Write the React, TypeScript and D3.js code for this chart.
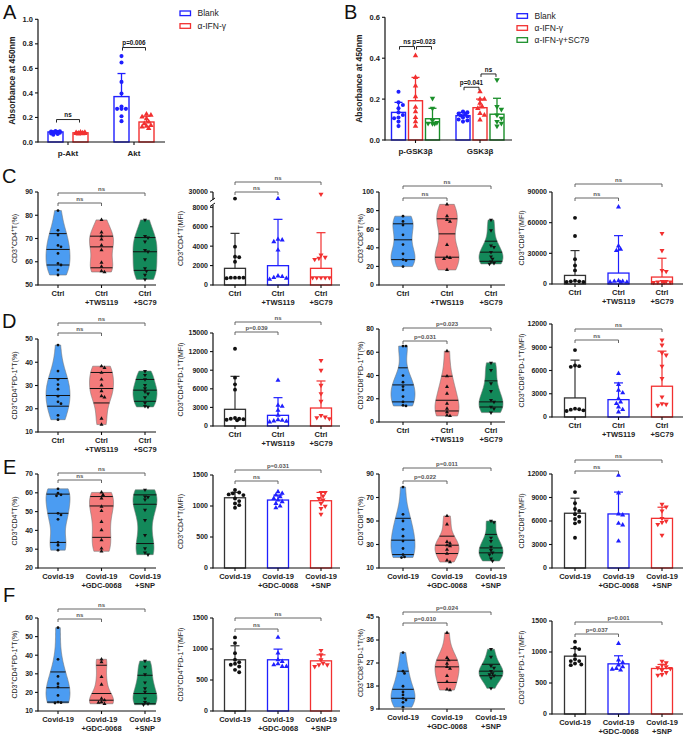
import React from 'react';
import * as d3 from 'd3';

const FONT = "Arial, 'Liberation Sans', Helvetica, sans-serif";
const BLUE = '#1f1fff';
const RED = '#f23030';
const GREEN = '#1a8f2a';
const BLACK = '#111111';
const V_FILLS = ['#4b9cf2', '#f47b7b', '#13895a'];

// ---------- panel A ----------
const aGroups = ['p-Akt', 'Akt'];
const aSeries = ['Blank', 'α-IFN-γ'];
const aMeans = [[0.082, 0.37], [0.075, 0.163]];
const aSDs = [[0.008, 0.188], [0.007, 0.047]];
const aPoints = [
  [[0.09, 0.088, 0.085, 0.082, 0.08, 0.078, 0.075, 0.07, 0.065, 0.06], [0.7, 0.648, 0.49, 0.395, 0.29, 0.27, 0.27, 0.27, 0.21, 0.17]],
  [[0.08, 0.078, 0.077, 0.075, 0.073, 0.072, 0.07, 0.07, 0.068, 0.066], [0.226, 0.218, 0.204, 0.19, 0.163, 0.15, 0.136, 0.13, 0.123, 0.11]],
];
const aTicks = [0, 0.2, 0.4, 0.6, 0.8, 1.0];
const aSig = ['ns', 'p=0.006'];

// ---------- panel B ----------
const bGroups = ['p-GSK3β', 'GSK3β'];
const bSeries = ['Blank', 'α-IFN-γ', 'α-IFN-γ+SC79'];
const bMeans = [[0.135, 0.119], [0.192, 0.158], [0.104, 0.126]];
const bSDs = [[0.049, 0.016], [0.114, 0.042], [0.051, 0.078]];
const bPoints = [
  [[0.236, 0.184, 0.171, 0.155, 0.135, 0.122, 0.11, 0.106, 0.09, 0.068], [0.139, 0.135, 0.13, 0.125, 0.12, 0.115, 0.11, 0.1, 0.095, 0.09]],
  [[0.412, 0.306, 0.264, 0.212, 0.16, 0.139, 0.11, 0.09, 0.068], [0.236, 0.2, 0.2, 0.18, 0.163, 0.155, 0.13, 0.122, 0.098]],
  [[0.204, 0.155, 0.095, 0.085, 0.082, 0.08, 0.08], [0.294, 0.163, 0.15, 0.122, 0.106, 0.09, 0.082, 0.068]],
];
const bTicks = [0, 0.2, 0.4, 0.6];
const bSig = ['ns', 'p=0.023', 'p=0.041', 'ns'];

// ---------- group labels ----------
const ctrlGroups = [['Ctrl'], ['Ctrl', '+TWS119'], ['Ctrl', '+SC79']];
const covidGroups = [['Covid-19'], ['Covid-19', '+GDC-0068'], ['Covid-19', '+SNP']];

// ---------- row C ----------
const c1Points = [
  [82, 73.5, 71.5, 67, 66.4, 63.6, 59.3, 58.6, 56.4, 54.3],
  [78, 72.7, 71, 69.6, 67.1, 65, 59.6, 57.9, 56, 55.6],
  [78, 71, 70.4, 68.6, 65, 64.3, 61, 57.1, 56, 54.3, 52.4],
];
const c1Quart = [[58.6, 65.3, 72.1], [57.4, 66.4, 71], [56.3, 64.3, 70.4]];
const c1Ticks = [50, 60, 70, 80, 90];
const c1Sig = ['ns', 'ns'];

const c2Means = [1716, 1990, 1716];
const c2SDs = [3600, 4770, 3670];
const c2Points = [
  [13500, 3950, 2920, 2850, 2400, 755, 755, 755, 755, 690],
  [13500, 4700, 4640, 4460, 3600, 930, 860, 755, 690, 585],
  [24500, 3090, 2850, 2750, 2640, 755, 755, 755, 755, 755],
];
const c2Ticks = [0, 2000, 4000, 6000, 8000];
const c2UpperTicks = [30000];
const c2Sig = ['ns', 'ns'];

const c3Points = [
  [74, 68.3, 64.4, 54, 43.5, 33.5, 27.3, 26.3, 19.8],
  [86.7, 74, 70.1, 68.3, 43.2, 29.9, 29.1, 28.1, 16.2],
  [70, 58.6, 42.4, 40.6, 35.3, 30.6, 28.1, 25.2, 23.4, 22.7],
];
const c3Quart = [[27.3, 48.6, 65.8], [29.9, 55, 71.2], [25.5, 35.3, 47.1]];
const c3Ticks = [0, 20, 40, 60, 80, 100];
const c3Sig = ['ns', 'ns'];

const c4Means = [8400, 10700, 6800];
const c4SDs = [24300, 36600, 18400];
const c4Points = [
  [64700, 46900, 24300, 18100, 13300, 3200, 2600, 2600, 1900, 1900],
  [75400, 37200, 34000, 32700, 3200, 2600, 2600, 1900, 1900, 1600],
  [49500, 32700, 13300, 12300, 2600, 2600, 1900, 1900, 1600, 1600],
];
const c4Ticks = [0, 30000, 60000, 90000];
const c4Sig = ['ns', 'ns'];

// ---------- row D ----------
const d1Points = [
  [47.4, 36.2, 32.6, 30.4, 28.4, 25.4, 23, 22.2, 17.2, 15.3],
  [38.3, 37.6, 35.5, 32.6, 30.1, 27.6, 25.4, 24.9, 15.8, 13.2],
  [36.2, 34.5, 32.6, 30.1, 28.7, 27.3, 26.5, 24.9, 22.5, 21.1, 20.8],
];
const d1Quart = [[21.1, 25.7, 33], [22.5, 28.7, 35.6], [23.2, 28, 32.6]];
const d1Ticks = [10, 20, 30, 40, 50];
const d1Sig = ['ns', 'ns'];

const d2Means = [2690, 1720, 2900];
const d2SDs = [5320, 2850, 4360];
const d2Points = [
  [12470, 7800, 6720, 5860, 1290, 1180, 1180, 1080, 1020, 910],
  [7370, 3330, 3170, 2530, 1720, 1020, 910, 810, 750, 650],
  [10590, 8980, 6560, 5220, 3980, 1720, 1450, 1340, 1180],
];
const d2Ticks = [0, 3000, 6000, 9000, 12000, 15000];
const d2Sig = ['p=0.039', 'ns'];

const d3Points = [
  [65.3, 65.3, 39.9, 34.2, 30.5, 27.6, 21.9, 17.3, 14.4, 13.8],
  [61, 39.4, 30.2, 24.5, 15.8, 11.5, 8.6, 5.8, 5.2],
  [50.9, 44.6, 33.1, 26.5, 18.7, 17.3, 12.9, 11.5, 8.1],
];
const d3Quart = [[17.3, 31.9, 46.6], [9.5, 18.7, 39.4], [12.9, 17.3, 35.4]];
const d3Ticks = [0, 20, 40, 60, 80];
const d3Sig = ['p=0.031', 'p=0.023'];

const d4Means = [2460, 2240, 3970];
const d4SDs = [4880, 2160, 4530];
const d4Points = [
  [8630, 6650, 6560, 6470, 1080, 990, 950, 860, 780],
  [5610, 4190, 3450, 3110, 2370, 1940, 1730, 1300, 950, 650],
  [9930, 9280, 8290, 7990, 6560, 4960, 2590, 1730, 1640, 1510],
];
const d4Ticks = [0, 3000, 6000, 9000, 12000];
const d4Sig = ['ns', 'ns'];

// ---------- row E ----------
const e1Points = [
  [62.1, 59.8, 58.9, 58.4, 49.1, 48.2, 45.9, 33.6, 32.1, 29.5],
  [60.2, 58.9, 57.1, 52.7, 50.4, 44.6, 40.2, 34.8, 30.4, 28.9],
  [61.6, 58, 57.7, 56.3, 50.9, 45.5, 37.5, 30.4, 28.2, 27.1],
];
const e1Quart = [[33.6, 49.1, 59.3], [36.3, 53, 58], [33, 53.9, 58.9]];
const e1Ticks = [20, 30, 40, 50, 60, 70];
const e1Sig = ['ns', 'ns'];

const e2Means = [1133, 1096, 1085];
const e2SDs = [86, 80, 134];
const e2Points = [
  [1257, 1219, 1203, 1187, 1176, 1122, 1079, 1041, 1014, 971],
  [1230, 1203, 1176, 1149, 1122, 1096, 1069, 1041, 998, 971],
  [1219, 1219, 1160, 1122, 1096, 1041, 998, 960, 869],
];
const e2Ticks = [0, 500, 1000, 1500];
const e2Sig = ['ns', 'p=0.031'];

const e3Points = [
  [78.9, 55.7, 50, 42.9, 37.1, 32.9, 26.6, 21.4, 19.4, 18.9],
  [54.3, 47.1, 32.3, 30.9, 29.4, 28.6, 25.7, 22.3, 16.6, 15.1],
  [50, 48.9, 35.7, 32.9, 28, 25.1, 23.1, 21.4, 18, 16],
];
const e3Quart = [[21.4, 33.7, 52.3], [22.3, 29.4, 37.1], [22.9, 27.1, 38.6]];
const e3Ticks = [10, 30, 50, 70, 90];
const e3Sig = ['p=0.022', 'p=0.011'];

const e4Means = [6990, 6900, 6340];
const e4SDs = [1920, 2790, 1420];
const e4Points = [
  [9690, 8270, 7540, 7290, 6860, 6560, 6260, 5910, 5700, 3860],
  [11830, 9560, 6900, 6770, 5700, 5490, 3430],
  [8140, 7800, 7290, 6340, 6000, 5830, 5570, 4200],
];
const e4Ticks = [0, 3000, 6000, 9000, 12000];
const e4Sig = ['ns', 'ns'];

// ---------- row F ----------
const f1Points = [
  [54.8, 37.8, 28.6, 24.7, 22.9, 18.4, 14.8, 14.5, 14.3],
  [37.8, 36.3, 28.3, 24.2, 16.7, 15.8, 14.8, 14.5, 13.9],
  [36.9, 33.7, 29.7, 25.3, 22.1, 20.3, 16.7, 14.8, 13.9, 13.4],
];
const f1Quart = [[14.8, 22.5, 31], [15.8, 19.4, 34.6], [13.9, 19.4, 29.2]];
const f1Ticks = [10, 20, 30, 40, 50, 60];
const f1Sig = ['ns', 'ns'];

const f2Means = [826, 826, 809];
const f2SDs = [226, 172, 97];
const f2Points = [
  [1187, 1095, 933, 826, 788, 761, 745, 718, 664, 626],
  [1187, 933, 826, 799, 761, 745, 718, 718],
  [977, 906, 826, 772, 745, 745, 718],
];
const f2Ticks = [0, 500, 1000, 1500];
const f2Sig = ['ns', 'ns'];

const f3Points = [
  [31.1, 23.8, 22.9, 17.9, 15.7, 14.5, 13.2, 12.5, 11.6, 9.7],
  [38.8, 29, 28.1, 26.8, 25.5, 24.8, 22, 19.6, 16.7, 16.4],
  [32.4, 29.4, 25.9, 25.1, 23.8, 22.9, 22.5, 22, 21.2, 17.1],
];
const f3Quart = [[13.2, 16.7, 23.8], [19.4, 25.5, 28.1], [22, 23.8, 26.5]];
const f3Ticks = [9, 18, 27, 36, 45];
const f3Sig = ['p=0.010', 'p=0.024'];

const f4Means = [933, 809, 734];
const f4SDs = [124, 130, 65];
const f4Points = [
  [1165, 1068, 1047, 950, 885, 853, 853, 815, 799, 788],
  [1138, 869, 831, 788, 761, 734, 723, 707],
  [853, 826, 788, 761, 745, 734, 707, 669, 637, 626],
];
const f4Ticks = [0, 500, 1000, 1500];
const f4Sig = ['p=0.037', 'p=0.001'];

// ---------- helpers ----------
type Shape = 'circle' | 'up' | 'down';
type Scale = (v: number) => number;

const symPath = (shape: Shape, size: number) =>
  d3.symbol().type(shape === 'circle' ? d3.symbolCircle : d3.symbolTriangle).size(size)() as string;

function Mark({ x, y, shape, size, fill }: { x: number; y: number; shape: Shape; size: number; fill: string }) {
  return (
    <path
      d={symPath(shape, size)}
      transform={`translate(${x},${y})${shape === 'down' ? ' rotate(180)' : ''}`}
      fill={fill}
    />
  );
}

// beeswarm kept inside +-maxOff; when crowded, take the least overlapping slot
function swarm(py: number[], r: number, maxOff: number): number[] {
  const out = py.map(() => 0);
  const placed: { x: number; y: number }[] = [];
  const order = d3.range(py.length).sort((a, b) => py[a] - py[b]);
  const slots: number[] = [0];
  for (let k = 1; k * r <= maxOff; k++) slots.push(k * r, -k * r);
  for (const i of order) {
    let best = 0;
    let bestD = -1;
    for (const off of slots) {
      const dmin = placed.length ? (d3.min(placed, p => Math.hypot(p.x - off, p.y - py[i])) as number) : Infinity;
      if (dmin >= 1.8 * r) { best = off; bestD = Infinity; break; }
      if (dmin > bestD) { bestD = dmin; best = off; }
    }
    out[i] = best;
    placed.push({ x: best, y: py[i] });
  }
  return out;
}

function YLabel({ x, y, text, size = 7, bold = false }: { x: number; y: number; text: string; size?: number; bold?: boolean }) {
  const parts = text.split('^');
  return (
    <text transform={`translate(${x},${y}) rotate(-90)`} textAnchor="middle" fontSize={size} fontWeight={bold ? 'bold' : 'normal'} fill="#222">
      <tspan>{parts[0]}</tspan>
      {parts.slice(1).map((p, i) => (
        <React.Fragment key={i}>
          <tspan dy={-2.6} fontSize={size * 0.72}>{p[0]}</tspan>
          <tspan dy={2.6}>{p.slice(1)}</tspan>
        </React.Fragment>
      ))}
    </text>
  );
}

function YAxis({ x, y, ticks, fmt, size = 7 }: { x: number; y: Scale; ticks: number[]; fmt: (v: number) => string; size?: number }) {
  return (
    <g>
      <line x1={x} x2={x} y1={y(ticks[0]) + 0.6} y2={y(ticks[ticks.length - 1])} stroke="#111" strokeWidth={1.2} />
      {ticks.map(t => (
        <g key={t}>
          <line x1={x - 3} x2={x} y1={y(t)} y2={y(t)} stroke="#111" strokeWidth={1.1} />
          <text x={x - 5} y={y(t)} dy="0.35em" textAnchor="end" fontSize={size} fontWeight="bold" fill="#222">{fmt(t)}</text>
        </g>
      ))}
    </g>
  );
}

function XAxis({ x0, x1, y, centers, labels, size = 7.5, gap = 11 }: { x0: number; x1: number; y: number; centers: number[]; labels: string[][]; size?: number; gap?: number }) {
  return (
    <g>
      <line x1={x0} x2={x1} y1={y} y2={y} stroke="#111" strokeWidth={1.2} />
      {centers.map((c, i) => (
        <g key={i}>
          <line x1={c} x2={c} y1={y} y2={y + 3} stroke="#111" strokeWidth={1.1} />
          {labels[i].map((l, j) => (
            <text key={j} x={c} y={y + gap + j * 9.3} textAnchor="middle" fontSize={size} fontWeight="bold" fill="#222">{l}</text>
          ))}
        </g>
      ))}
    </g>
  );
}

function Bracket({ x1, x2, y, label, size = 6, color = '#555', bold = true }: { x1: number; x2: number; y: number; label: string; size?: number; color?: string; bold?: boolean }) {
  return (
    <g>
      <path d={`M${x1},${y + 3}V${y}H${x2}V${y + 3}`} fill="none" stroke={color} strokeWidth={0.9} />
      <text x={(x1 + x2) / 2} y={y - 2.2} textAnchor="middle" fontSize={size} fontWeight={bold ? 'bold' : 'normal'} fill={color}>{label}</text>
    </g>
  );
}

function Letter({ x, y, t }: { x: number; y: number; t: string }) {
  return <text x={x} y={y} fontSize={20} fill="#111">{t}</text>;
}

// ---------- grouped bars (A, B) ----------
type GroupBarsProps = {
  axisX: number; xEnd: number; y0: number; y1: number; ticks: number[];
  groups: string[]; series: string[]; centers: number[]; subRange: [number, number]; padInner: number;
  colors: string[]; shapes: Shape[]; means: number[][]; sds: number[][]; points: number[][][];
  brackets: { g: number; s1: number; s2: number; at: number }[]; sig: string[];
  label: string; labelX: number;
};

function GroupBars(p: GroupBarsProps) {
  const y = d3.scaleLinear().domain([p.ticks[0], p.ticks[p.ticks.length - 1]]).range([p.y0, p.y1]);
  const sub = d3.scaleBand<string>().domain(p.series).range(p.subRange).paddingInner(p.padInner);
  const bw = sub.bandwidth();
  const cx = (g: number, s: number) => p.centers[g] + (sub(p.series[s]) as number) + bw / 2;
  const fmt = d3.format('.1f');
  return (
    <g>
      {p.series.map((sName, s) =>
        p.groups.map((_, g) => {
          const c = cx(g, s);
          const m = p.means[s][g];
          const top = m + p.sds[s][g];
          const py = p.points[s][g].map(v => y(v));
          const offs = swarm(py, 2.2, bw / 2 - 2);
          return (
            <g key={`${sName}-${g}`}>
              <rect x={c - bw / 2} y={y(m)} width={bw} height={p.y0 - y(m)} fill="#fff" stroke={p.colors[s]} strokeWidth={1.4} />
              <line x1={c} x2={c} y1={y(m)} y2={y(top)} stroke={p.colors[s]} strokeWidth={1.3} />
              <line x1={c - 4} x2={c + 4} y1={y(top)} y2={y(top)} stroke={p.colors[s]} strokeWidth={1.3} />
              {py.map((v, i) => (
                <Mark key={i} x={c + offs[i]} y={v} shape={p.shapes[s]} size={p.shapes[s] === 'circle' ? 13 : 13} fill={p.colors[s]} />
              ))}
            </g>
          );
        })
      )}
      <YAxis x={p.axisX} y={y} ticks={p.ticks} fmt={fmt} size={7.5} />
      <XAxis x0={p.axisX} x1={p.xEnd} y={p.y0} centers={p.centers} labels={p.groups.map(g => [g])} size={8} gap={14} />
      {p.brackets.map((b, i) => (
        <Bracket key={i} x1={cx(b.g, b.s1) + 1} x2={cx(b.g, b.s2) - 1} y={y(b.at)} label={p.sig[i]} size={6.3} color="#111" />
      ))}
      <YLabel x={p.labelX} y={(p.y0 + p.y1) / 2} text={p.label} size={8.5} bold />
    </g>
  );
}

function Legend({ x, ys, colors, labels }: { x: number; ys: number[]; colors: string[]; labels: string[] }) {
  return (
    <g>
      {labels.map((l, i) => (
        <g key={l}>
          <rect x={x} y={ys[i] - 2.3} width={10.5} height={4.6} fill="#fff" stroke={colors[i]} strokeWidth={1.3} />
          <text x={x + 17.5} y={ys[i]} dy="0.35em" fontSize={8.5} fill="#222">{l}</text>
        </g>
      ))}
    </g>
  );
}

// ---------- layout ----------
const COLS = [
  { axisX: 38, xEnd: 156, catRange: [58, 145] as [number, number], labelX: 17 },
  { axisX: 213, xEnd: 340, catRange: [235, 321] as [number, number], labelX: 183 },
  { axisX: 379, xEnd: 505, catRange: [403, 491] as [number, number], labelX: 363 },
  { axisX: 552, xEnd: 683, catRange: [575, 662] as [number, number], labelX: 524 },
];
const PAIRS: [number, number][] = [[0, 1], [0, 2]];

type ViolinProps = {
  col: number; y0: number; y1: number; ticks: number[]; points: number[][]; quarts: number[][];
  cats: string[][]; sig: string[]; bracketY: number[]; label: string;
};

function Violins(p: ViolinProps) {
  const col = COLS[p.col];
  const y = d3.scaleLinear().domain([p.ticks[0], p.ticks[p.ticks.length - 1]]).range([p.y0, p.y1]);
  const x = d3.scalePoint<number>().domain(d3.range(p.cats.length)).range(col.catRange);
  const halfW = 12;
  const shapes: Shape[] = ['circle', 'up', 'down'];
  return (
    <g>
      {p.points.map((pts, gi) => {
        const lo = d3.min(pts) as number;
        const hi = d3.max(pts) as number;
        const bw = (hi - lo) * 0.2;
        const dens = (v: number) => d3.mean(pts, q => Math.exp(-0.5 * ((v - q) / bw) ** 2)) as number;
        const samples = d3.range(61).map(i => lo + ((hi - lo) * i) / 60);
        const ds = samples.map(dens);
        const maxD = d3.max(ds) as number;
        const w = (d: number) => (halfW * d) / maxD;
        const c = x(gi) as number;
        const area = d3
          .area<number>()
          .y(i => y(samples[i]))
          .x0(i => c - w(ds[i]))
          .x1(i => c + w(ds[i]))
          .curve(d3.curveMonotoneY);
        const py = pts.map(v => y(v));
        const offs = swarm(py, 1.5, 6);
        return (
          <g key={gi}>
            <path d={area(d3.range(samples.length)) as string} fill={V_FILLS[gi]} stroke="#777" strokeWidth={0.6} />
            {p.quarts[gi].map((q, qi) => (
              <line key={qi} x1={c - w(dens(q))} x2={c + w(dens(q))} y1={y(q)} y2={y(q)} stroke="#111" strokeWidth={1} />
            ))}
            {py.map((v, i) => (
              <Mark key={i} x={c + offs[i]} y={v} shape={shapes[gi]} size={gi === 0 ? 6 : 7} fill="#111" />
            ))}
          </g>
        );
      })}
      <YAxis x={col.axisX} y={y} ticks={p.ticks} fmt={d3.format('d')} />
      <XAxis x0={col.axisX} x1={col.xEnd} y={p.y0} centers={p.cats.map((_, i) => x(i) as number)} labels={p.cats} />
      {PAIRS.map((pr, i) => (
        <Bracket key={i} x1={x(pr[0]) as number} x2={x(pr[1]) as number} y={p.bracketY[i]} label={p.sig[i]} />
      ))}
      <YLabel x={col.labelX} y={(p.y0 + p.y1) / 2} text={p.label} />
    </g>
  );
}

type BrokenSpec = { min: number; max: number; bottom: number; top: number; ticks: number[]; lowEnd: number };
type BarScatterProps = {
  col: number; y0: number; y1: number; ticks: number[]; means: number[]; sds: number[]; points: number[][];
  cats: string[][]; sig: string[]; bracketY: number[]; label: string; broken?: BrokenSpec;
};

function BarScatter(p: BarScatterProps) {
  const col = COLS[p.col];
  const lowMax = p.ticks[p.ticks.length - 1];
  const y = d3.scaleLinear().domain([p.ticks[0], lowMax]).range([p.y0, p.y1]);
  const br = p.broken;
  const hiScale = br ? d3.scaleLinear().domain([br.min, br.max]).range([br.bottom, br.top]) : null;
  const yy = (v: number) => (hiScale && v > lowMax ? hiScale(v) : y(v));
  const x = d3.scalePoint<number>().domain(d3.range(p.cats.length)).range(col.catRange);
  const colors = [BLACK, BLUE, RED];
  const barStroke = ['#333', BLUE, RED];
  const shapes: Shape[] = ['circle', 'up', 'down'];
  const bw = 21;
  const fmt = d3.format('d');
  return (
    <g>
      {p.means.map((m, gi) => {
        const c = x(gi) as number;
        const top = m + p.sds[gi];
        const py = p.points[gi].map(yy);
        const offs = swarm(py, 2.1, bw / 2 - 1.5);
        return (
          <g key={gi}>
            <rect x={c - bw / 2} y={y(m)} width={bw} height={p.y0 - y(m)} fill="#fff" stroke={barStroke[gi]} strokeWidth={1.3} />
            <line x1={c} x2={c} y1={y(m)} y2={y(top)} stroke={barStroke[gi]} strokeWidth={1.2} />
            <line x1={c - 4.5} x2={c + 4.5} y1={y(top)} y2={y(top)} stroke={barStroke[gi]} strokeWidth={1.2} />
            {py.map((v, i) => (
              <Mark key={i} x={c + offs[i]} y={v} shape={shapes[gi]} size={gi === 0 ? 12 : 11} fill={colors[gi]} />
            ))}
          </g>
        );
      })}
      {br ? (
        <g>
          <line x1={col.axisX} x2={col.axisX} y1={p.y0 + 0.6} y2={br.lowEnd} stroke="#111" strokeWidth={1.2} />
          {p.ticks.map(t => (
            <g key={t}>
              <line x1={col.axisX - 3} x2={col.axisX} y1={y(t)} y2={y(t)} stroke="#111" strokeWidth={1.1} />
              <text x={col.axisX - 5} y={y(t)} dy="0.35em" textAnchor="end" fontSize={7} fontWeight="bold" fill="#222">{fmt(t)}</text>
            </g>
          ))}
          <line x1={col.axisX} x2={col.axisX} y1={br.bottom} y2={br.top} stroke="#111" strokeWidth={1.2} />
          {br.ticks.map(t => (
            <g key={t}>
              <line x1={col.axisX - 3} x2={col.axisX} y1={hiScale!(t)} y2={hiScale!(t)} stroke="#111" strokeWidth={1.1} />
              <text x={col.axisX - 5} y={hiScale!(t)} dy="0.35em" textAnchor="end" fontSize={7} fontWeight="bold" fill="#222">{fmt(t)}</text>
            </g>
          ))}
          <line x1={col.axisX - 3} x2={col.axisX + 2} y1={br.lowEnd + 1.5} y2={br.lowEnd - 2} stroke="#111" strokeWidth={1} />
          <line x1={col.axisX - 3} x2={col.axisX + 2} y1={br.bottom + 1.5} y2={br.bottom - 2} stroke="#111" strokeWidth={1} />
        </g>
      ) : (
        <YAxis x={col.axisX} y={y} ticks={p.ticks} fmt={fmt} />
      )}
      <XAxis x0={col.axisX} x1={col.xEnd} y={p.y0} centers={p.cats.map((_, i) => x(i) as number)} labels={p.cats} />
      {PAIRS.map((pr, i) => (
        <Bracket key={i} x1={x(pr[0]) as number} x2={x(pr[1]) as number} y={p.bracketY[i]} label={p.sig[i]} />
      ))}
      <YLabel x={col.labelX} y={(p.y0 + (br ? br.top : p.y1)) / 2} text={p.label} />
    </g>
  );
}

export default function App() {
  return (
    <svg
      width={685}
      height={736}
      viewBox="0 0 685 736"
      style={{ position: 'absolute', left: 0, top: 0, background: '#fff' }}
      fontFamily={FONT}
    >
      <rect width={685} height={736} fill="#fff" />

      <Letter x={3} y={19} t="A" />
      <GroupBars
        axisX={38} xEnd={165} y0={142} y1={19.3} ticks={aTicks}
        groups={aGroups} series={aSeries} centers={[68, 134]} subRange={[-20, 20]} padInner={0.4}
        colors={[BLUE, RED]} shapes={['circle', 'up']} means={aMeans} sds={aSDs} points={aPoints}
        brackets={[{ g: 0, s1: 0, s2: 1, at: 0.183 }, { g: 1, s1: 0, s2: 1, at: 0.77 }]} sig={aSig}
        label="Absorbance at 450nm" labelX={15}
      />
      <Legend x={180} ys={[13.3, 26]} colors={[BLUE, RED]} labels={aSeries} />

      <Letter x={344} y={19} t="B" />
      <GroupBars
        axisX={385} xEnd={512} y0={140} y1={17.3} ticks={bTicks}
        groups={bGroups} series={bSeries} centers={[415.5, 480]} subRange={[-24, 24]} padInner={0.176}
        colors={[BLUE, RED, GREEN]} shapes={['circle', 'up', 'down']} means={bMeans} sds={bSDs} points={bPoints}
        brackets={[
          { g: 0, s1: 0, s2: 1, at: 0.457 }, { g: 0, s1: 1, s2: 2, at: 0.457 },
          { g: 1, s1: 0, s2: 1, at: 0.258 }, { g: 1, s1: 1, s2: 2, at: 0.323 },
        ]}
        sig={bSig} label="Absorbance at 450nm" labelX={362}
      />
      <Legend x={517} ys={[16, 28, 40]} colors={[BLUE, RED, GREEN]} labels={bSeries} />

      <Letter x={2} y={183} t="C" />
      <Violins col={0} y0={285} y1={192} ticks={c1Ticks} points={c1Points} quarts={c1Quart} cats={ctrlGroups} sig={c1Sig} bracketY={[203, 193]} label="CD3^+CD4^+T(%)" />
      <BarScatter col={1} y0={285} y1={207.3} ticks={c2Ticks} means={c2Means} sds={c2SDs} points={c2Points} cats={ctrlGroups} sig={c2Sig} bracketY={[192, 182]} label="CD3^+CD4^+T(MFI)"
        broken={{ min: 10000, max: 30000, bottom: 200, top: 192, ticks: c2UpperTicks, lowEnd: 205 }} />
      <Violins col={2} y0={285} y1={192} ticks={c3Ticks} points={c3Points} quarts={c3Quart} cats={ctrlGroups} sig={c3Sig} bracketY={[198, 186]} label="CD3^+CD8^+T(%)" />
      <BarScatter col={3} y0={284} y1={192} ticks={c4Ticks} means={c4Means} sds={c4SDs} points={c4Points} cats={ctrlGroups} sig={c4Sig} bracketY={[198, 184]} label="CD3^+CD8^+T(MFI)" />

      <Letter x={2} y={328} t="D" />
      <Violins col={0} y0={432} y1={339} ticks={d1Ticks} points={d1Points} quarts={d1Quart} cats={ctrlGroups} sig={d1Sig} bracketY={[333, 323]} label="CD3^+CD4^+PD-1^+T(%)" />
      <BarScatter col={1} y0={426} y1={333} ticks={d2Ticks} means={d2Means} sds={d2SDs} points={d2Points} cats={ctrlGroups} sig={d2Sig} bracketY={[332, 322]} label="CD3^+CD4^+PD-1^+T(MFI)" />
      <Violins col={2} y0={422} y1={329} ticks={d3Ticks} points={d3Points} quarts={d3Quart} cats={ctrlGroups} sig={d3Sig} bracketY={[341, 328]} label="CD3^+CD8^+PD-1^+T(%)" />
      <BarScatter col={3} y0={417} y1={324} ticks={d4Ticks} means={d4Means} sds={d4SDs} points={d4Points} cats={ctrlGroups} sig={d4Sig} bracketY={[340, 329]} label="CD3^+CD8^+PD-1^+T(MFI)" />

      <Letter x={3} y={474} t="E" />
      <Violins col={0} y0={568} y1={474} ticks={e1Ticks} points={e1Points} quarts={e1Quart} cats={covidGroups} sig={e1Sig} bracketY={[480, 473]} label="CD3^+CD4^+T(%)" />
      <BarScatter col={1} y0={568} y1={475} ticks={e2Ticks} means={e2Means} sds={e2SDs} points={e2Points} cats={covidGroups} sig={e2Sig} bracketY={[481, 470]} label="CD3^+CD4^+T(MFI)" />
      <Violins col={2} y0={568} y1={474} ticks={e3Ticks} points={e3Points} quarts={e3Quart} cats={covidGroups} sig={e3Sig} bracketY={[481, 468]} label="CD3^+CD8^+T(%)" />
      <BarScatter col={3} y0={568} y1={474} ticks={e4Ticks} means={e4Means} sds={e4SDs} points={e4Points} cats={covidGroups} sig={e4Sig} bracketY={[471, 460]} label="CD3^+CD8^+T(MFI)" />

      <Letter x={3} y={602} t="F" />
      <Violins col={0} y0={711} y1={618} ticks={f1Ticks} points={f1Points} quarts={f1Quart} cats={covidGroups} sig={f1Sig} bracketY={[619, 609]} label="CD3^+CD4^+PD-1^+T(%)" />
      <BarScatter col={1} y0={711} y1={618} ticks={f2Ticks} means={f2Means} sds={f2SDs} points={f2Points} cats={covidGroups} sig={f2Sig} bracketY={[629, 618]} label="CD3^+CD4^+PD-1^+T(MFI)" />
      <Violins col={2} y0={709} y1={617} ticks={f3Ticks} points={f3Points} quarts={f3Quart} cats={covidGroups} sig={f3Sig} bracketY={[623, 612]} label="CD3^+CD8^+PD-1^+T(%)" />
      <BarScatter col={3} y0={714} y1={621} ticks={f4Ticks} means={f4Means} sds={f4SDs} points={f4Points} cats={covidGroups} sig={f4Sig} bracketY={[634, 622]} label="CD3^+CD8^+PD-1^+T(MFI)" />
    </svg>
  );
}
